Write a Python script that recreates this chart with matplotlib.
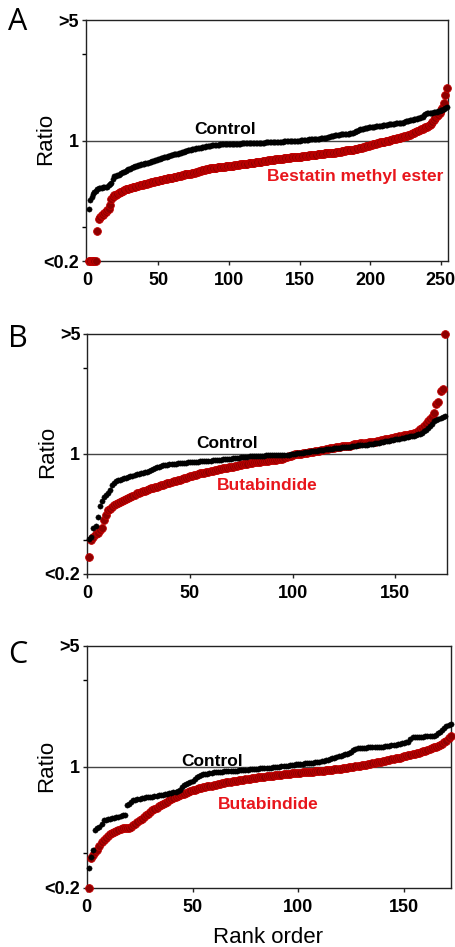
import matplotlib
matplotlib.use("Agg")
import matplotlib.pyplot as plt
import numpy as np

plt.rcParams['font.family'] = ['Liberation Sans', 'DejaVu Sans']

# ---------------- data (ratios, rank ordered) ----------------
a_control = [
 0.40, 0.45, 0.47, 0.49, 0.50, 0.51, 0.52, 0.53, 0.53, 0.53,
 0.54, 0.54, 0.54, 0.54, 0.55, 0.56, 0.565, 0.60, 0.62, 0.625,
 0.63, 0.635, 0.64, 0.65, 0.655, 0.66, 0.665, 0.67, 0.68, 0.685,
 0.69, 0.70, 0.705, 0.71, 0.715, 0.72, 0.725, 0.73, 0.73, 0.735,
 0.74, 0.74, 0.745, 0.75, 0.753, 0.76, 0.765, 0.77, 0.775, 0.78,
 0.785, 0.79, 0.795, 0.80, 0.80, 0.805, 0.81, 0.815, 0.82, 0.825,
 0.83, 0.83, 0.835, 0.84, 0.845, 0.85, 0.855, 0.86, 0.865, 0.87,
 0.875, 0.88, 0.885, 0.89, 0.89, 0.895, 0.90, 0.90, 0.905, 0.91,
 0.915, 0.92, 0.92, 0.925, 0.93, 0.93, 0.935, 0.94, 0.94, 0.94,
 0.945, 0.945, 0.945, 0.95, 0.95, 0.95, 0.95, 0.955, 0.955, 0.955,
 0.955, 0.957, 0.958, 0.958, 0.96, 0.96, 0.96, 0.96, 0.962, 0.962,
 0.963, 0.963, 0.964, 0.964, 0.965, 0.965, 0.966, 0.967, 0.968, 0.968,
 0.969, 0.97, 0.971, 0.972, 0.973, 0.974, 0.975, 0.976, 0.977, 0.978,
 0.979, 0.98, 0.981, 0.982, 0.983, 0.984, 0.985, 0.986, 0.987, 0.988,
 0.989, 0.99, 0.991, 0.992, 0.993, 0.994, 0.995, 0.997, 0.998, 1.0,
 1.002, 1.004, 1.006, 1.008, 1.01, 1.012, 1.014, 1.016, 1.018, 1.02,
 1.021, 1.023, 1.025, 1.027, 1.028, 1.03, 1.03, 1.035, 1.04, 1.045,
 1.05, 1.055, 1.06, 1.065, 1.07, 1.075, 1.08, 1.08, 1.085, 1.09,
 1.09, 1.092, 1.094, 1.096, 1.098, 1.10, 1.105, 1.11, 1.12, 1.13,
 1.14, 1.15, 1.16, 1.165, 1.17, 1.175, 1.18, 1.185, 1.19, 1.195,
 1.20, 1.20, 1.205, 1.21, 1.21, 1.215, 1.22, 1.22, 1.225, 1.23,
 1.23, 1.235, 1.24, 1.24, 1.245, 1.25, 1.25, 1.255, 1.255, 1.26,
 1.26, 1.265, 1.27, 1.28, 1.29, 1.295, 1.30, 1.31, 1.315, 1.32,
 1.325, 1.33, 1.34, 1.345, 1.35, 1.36, 1.37, 1.40, 1.43, 1.44,
 1.44, 1.445, 1.45, 1.45, 1.455, 1.46, 1.47, 1.48, 1.49, 1.50,
 1.51, 1.52, 1.54, 1.57]

a_bestatin = [
 0.2, 0.2, 0.2, 0.2, 0.2, 0.2, 0.30, 0.35, 0.36, 0.37,
 0.37, 0.38, 0.385, 0.395, 0.40, 0.42, 0.46, 0.47, 0.48, 0.485,
 0.49, 0.495, 0.50, 0.505, 0.51, 0.515, 0.52, 0.52, 0.525, 0.53,
 0.53, 0.535, 0.54, 0.54, 0.545, 0.545, 0.55, 0.553, 0.555, 0.558,
 0.56, 0.563, 0.566, 0.57, 0.572, 0.575, 0.578, 0.58, 0.583, 0.585,
 0.588, 0.59, 0.593, 0.596, 0.598, 0.60, 0.603, 0.605, 0.608, 0.61,
 0.613, 0.615, 0.618, 0.62, 0.623, 0.626, 0.63, 0.633, 0.636, 0.64,
 0.64, 0.642, 0.643, 0.644, 0.645, 0.65, 0.655, 0.66, 0.663, 0.667,
 0.67, 0.673, 0.676, 0.68, 0.683, 0.686, 0.688, 0.69, 0.692, 0.694,
 0.696, 0.698, 0.70, 0.702, 0.703, 0.704, 0.706, 0.707, 0.709, 0.71,
 0.712, 0.714, 0.716, 0.718, 0.72, 0.722, 0.724, 0.726, 0.728, 0.73,
 0.732, 0.734, 0.735, 0.737, 0.738, 0.74, 0.742, 0.744, 0.746, 0.748,
 0.75, 0.752, 0.754, 0.756, 0.76, 0.762, 0.764, 0.766, 0.768, 0.77,
 0.772, 0.774, 0.776, 0.778, 0.78, 0.782, 0.784, 0.786, 0.788, 0.79,
 0.792, 0.794, 0.796, 0.797, 0.798, 0.80, 0.801, 0.802, 0.803, 0.805,
 0.807, 0.809, 0.811, 0.813, 0.815, 0.817, 0.819, 0.821, 0.823, 0.825,
 0.827, 0.829, 0.831, 0.833, 0.835, 0.837, 0.839, 0.841, 0.843, 0.845,
 0.846, 0.847, 0.848, 0.849, 0.85, 0.853, 0.856, 0.86, 0.863, 0.866,
 0.869, 0.872, 0.875, 0.877, 0.879, 0.88, 0.883, 0.886, 0.89, 0.894,
 0.898, 0.902, 0.906, 0.91, 0.915, 0.92, 0.925, 0.93, 0.935, 0.94,
 0.945, 0.95, 0.955, 0.96, 0.965, 0.97, 0.974, 0.977, 0.98, 0.985,
 0.99, 0.995, 1.0, 1.005, 1.01, 1.015, 1.02, 1.025, 1.03, 1.035,
 1.04, 1.045, 1.05, 1.055, 1.06, 1.065, 1.07, 1.08, 1.09, 1.10,
 1.11, 1.12, 1.13, 1.14, 1.15, 1.16, 1.17, 1.18, 1.19, 1.20,
 1.21, 1.23, 1.24, 1.28, 1.31, 1.35, 1.38, 1.41, 1.44, 1.50,
 1.55, 1.64, 1.84, 2.01]

b_control = [
 0.32, 0.33, 0.37, 0.38, 0.43, 0.50, 0.53, 0.565, 0.58, 0.59,
 0.62, 0.66, 0.68, 0.695, 0.705, 0.71, 0.715, 0.72, 0.725, 0.73,
 0.74, 0.745, 0.755, 0.76, 0.765, 0.77, 0.775, 0.785, 0.79, 0.80,
 0.807, 0.815, 0.825, 0.835, 0.845, 0.85, 0.86, 0.865, 0.868, 0.87,
 0.873, 0.876, 0.879, 0.882, 0.885, 0.887, 0.89, 0.892, 0.894, 0.896,
 0.898, 0.90, 0.902, 0.904, 0.906, 0.908, 0.91, 0.912, 0.914, 0.916,
 0.92, 0.922, 0.924, 0.926, 0.928, 0.93, 0.932, 0.934, 0.937, 0.94,
 0.943, 0.946, 0.95, 0.953, 0.956, 0.96, 0.963, 0.967, 0.971, 0.975,
 0.976, 0.977, 0.978, 0.979, 0.98, 0.98, 0.981, 0.982, 0.982, 0.983,
 0.983, 0.984, 0.984, 0.985, 0.985, 0.988, 0.99, 0.993, 0.996, 1.0,
 1.004, 1.008, 1.012, 1.016, 1.02, 1.024, 1.028, 1.032, 1.036, 1.04,
 1.044, 1.048, 1.052, 1.056, 1.06, 1.064, 1.068, 1.072, 1.076, 1.08,
 1.083, 1.086, 1.089, 1.092, 1.095, 1.098, 1.10, 1.105, 1.11, 1.115,
 1.12, 1.123, 1.126, 1.129, 1.13, 1.135, 1.14, 1.145, 1.15, 1.155,
 1.16, 1.166, 1.172, 1.178, 1.184, 1.19, 1.196, 1.202, 1.21, 1.22,
 1.225, 1.23, 1.24, 1.245, 1.25, 1.26, 1.265, 1.27, 1.28, 1.29,
 1.30, 1.31, 1.33, 1.36, 1.38, 1.41, 1.46, 1.50, 1.55, 1.57,
 1.59, 1.61, 1.64, 1.66]

b_butabindide = [
 0.25, 0.315, 0.33, 0.34, 0.345, 0.36, 0.37, 0.41, 0.44, 0.47,
 0.48, 0.49, 0.505, 0.51, 0.515, 0.525, 0.53, 0.54, 0.548, 0.556,
 0.564, 0.572, 0.58, 0.59, 0.595, 0.60, 0.605, 0.612, 0.62, 0.625,
 0.63, 0.635, 0.64, 0.646, 0.652, 0.658, 0.664, 0.67, 0.675, 0.68,
 0.686, 0.692, 0.698, 0.704, 0.71, 0.715, 0.72, 0.726, 0.733, 0.74,
 0.746, 0.752, 0.758, 0.764, 0.77, 0.775, 0.78, 0.785, 0.79, 0.795,
 0.80, 0.805, 0.81, 0.815, 0.82, 0.824, 0.828, 0.832, 0.836, 0.84,
 0.845, 0.85, 0.855, 0.86, 0.865, 0.87, 0.875, 0.88, 0.885, 0.89,
 0.893, 0.896, 0.899, 0.902, 0.905, 0.908, 0.911, 0.914, 0.917, 0.92,
 0.924, 0.928, 0.932, 0.936, 0.94, 0.95, 0.96, 0.97, 0.98, 0.99,
 0.994, 0.998, 1.002, 1.006, 1.01, 1.014, 1.018, 1.022, 1.026, 1.03,
 1.036, 1.042, 1.048, 1.054, 1.06, 1.066, 1.072, 1.078, 1.084, 1.09,
 1.094, 1.098, 1.102, 1.106, 1.11, 1.113, 1.116, 1.12, 1.13, 1.14,
 1.144, 1.148, 1.152, 1.156, 1.16, 1.164, 1.168, 1.172, 1.176, 1.18,
 1.187, 1.194, 1.201, 1.208, 1.215, 1.222, 1.229, 1.236, 1.243, 1.25,
 1.258, 1.266, 1.274, 1.282, 1.29, 1.298, 1.306, 1.314, 1.322, 1.33,
 1.36, 1.39, 1.42, 1.45, 1.50, 1.55, 1.60, 1.65, 1.73, 1.95,
 2.0, 2.33, 2.38, 5.0]

c_control = [
 0.26, 0.30, 0.33, 0.43, 0.44, 0.45, 0.47, 0.49, 0.495, 0.50,
 0.50, 0.505, 0.505, 0.51, 0.515, 0.52, 0.525, 0.53, 0.60, 0.61,
 0.625, 0.64, 0.645, 0.65, 0.655, 0.66, 0.66, 0.665, 0.665, 0.67,
 0.673, 0.676, 0.68, 0.683, 0.686, 0.69, 0.695, 0.70, 0.705, 0.71,
 0.715, 0.72, 0.728, 0.735, 0.76, 0.79, 0.80, 0.81, 0.82, 0.83,
 0.85, 0.87, 0.885, 0.90, 0.905, 0.91, 0.915, 0.92, 0.925, 0.928,
 0.93, 0.932, 0.934, 0.936, 0.94, 0.942, 0.944, 0.946, 0.948, 0.95,
 0.952, 0.954, 0.956, 0.958, 0.96, 0.963, 0.966, 0.969, 0.972, 0.975,
 0.977, 0.979, 0.981, 0.983, 0.985, 0.988, 0.991, 0.994, 0.997, 1.0,
 1.003, 1.006, 1.01, 1.013, 1.016, 1.02, 1.024, 1.028, 1.032, 1.036,
 1.04, 1.043, 1.046, 1.049, 1.052, 1.055, 1.058, 1.061, 1.064, 1.07,
 1.075, 1.08, 1.09, 1.10, 1.11, 1.12, 1.13, 1.14, 1.15, 1.16,
 1.17, 1.18, 1.19, 1.20, 1.22, 1.25, 1.27, 1.28, 1.285, 1.29,
 1.29, 1.292, 1.294, 1.296, 1.298, 1.30, 1.302, 1.304, 1.306, 1.31,
 1.315, 1.32, 1.325, 1.33, 1.335, 1.34, 1.35, 1.36, 1.37, 1.38,
 1.39, 1.40, 1.44, 1.48, 1.485, 1.49, 1.49, 1.495, 1.495, 1.50,
 1.50, 1.50, 1.505, 1.51, 1.53, 1.56, 1.60, 1.64, 1.68, 1.72,
 1.75, 1.76]

c_butabindide = [
 0.2, 0.296, 0.31, 0.32, 0.33, 0.35, 0.37, 0.38, 0.39, 0.40,
 0.41, 0.415, 0.42, 0.425, 0.43, 0.435, 0.44, 0.44, 0.442, 0.445,
 0.45, 0.46, 0.47, 0.48, 0.49, 0.50, 0.51, 0.525, 0.537, 0.55,
 0.56, 0.57, 0.58, 0.59, 0.60, 0.61, 0.62, 0.63, 0.64, 0.65,
 0.66, 0.668, 0.676, 0.684, 0.692, 0.70, 0.708, 0.716, 0.724, 0.732,
 0.738, 0.744, 0.75, 0.755, 0.76, 0.765, 0.77, 0.775, 0.78, 0.785,
 0.79, 0.795, 0.80, 0.804, 0.808, 0.812, 0.816, 0.82, 0.824, 0.828,
 0.832, 0.836, 0.84, 0.844, 0.848, 0.852, 0.856, 0.86, 0.863, 0.866,
 0.869, 0.872, 0.875, 0.878, 0.881, 0.884, 0.887, 0.89, 0.893, 0.896,
 0.899, 0.902, 0.905, 0.908, 0.911, 0.914, 0.917, 0.92, 0.922, 0.924,
 0.926, 0.928, 0.93, 0.932, 0.934, 0.936, 0.938, 0.94, 0.943, 0.946,
 0.949, 0.952, 0.955, 0.958, 0.961, 0.964, 0.967, 0.97, 0.974, 0.978,
 0.982, 0.986, 0.99, 0.994, 0.998, 1.002, 1.006, 1.01, 1.015, 1.02,
 1.025, 1.03, 1.036, 1.042, 1.048, 1.054, 1.06, 1.066, 1.072, 1.078,
 1.084, 1.09, 1.097, 1.104, 1.111, 1.118, 1.125, 1.132, 1.14, 1.148,
 1.156, 1.164, 1.172, 1.18, 1.19, 1.20, 1.21, 1.22, 1.23, 1.24,
 1.25, 1.265, 1.28, 1.295, 1.31, 1.325, 1.34, 1.36, 1.39, 1.42,
 1.46, 1.50]

y_ticks = [0.2, 1, 5]
y_ticklabels = ['<0.2', '1', '>5']
y_minor = [10 ** -0.5, 10 ** 0.5]

panels = [
    dict(letter='A', ctrl=a_control, trt=a_bestatin, trt_name='Bestatin methyl ester',
         xlim=(-1, 255), xticks=[0, 50, 100, 150, 200, 250],
         box=(86, 20, 448, 261), ctrl_txt=(225, 129), trt_txt=(355, 177),
         letter_xy=(18, 22), ratio_xy=(46, 139), xlabel=None),
    dict(letter='B', ctrl=b_control, trt=b_butabindide, trt_name='Butabindide',
         xlim=(0, 175), xticks=[0, 50, 100, 150],
         box=(87.3, 334, 446.7, 574), ctrl_txt=(227, 443), trt_txt=(267, 485),
         letter_xy=(18, 339), ratio_xy=(48, 452), xlabel=None),
    dict(letter='C', ctrl=c_control, trt=c_butabindide, trt_name='Butabindide',
         xlim=(0, 172), xticks=[0, 50, 100, 150],
         box=(86.7, 646, 450.7, 887.7), ctrl_txt=(212, 762), trt_txt=(268, 804),
         letter_xy=(18, 655), ratio_xy=(47, 766), xlabel='Rank order'),
]

W, H = 456, 947
fig = plt.figure(figsize=(W / 100, H / 100), dpi=100)
fig.patch.set_facecolor('white')

RED_FACE = '#8e0000'
RED_EDGE = '#c40000'
TXT_RED = '#e8161c'

def fx(x):
    return x / W

def fy(y):
    return 1 - y / H

for p in panels:
    l, t, r, b = p['box']
    ax = fig.add_axes([fx(l), fy(b), (r - l) / W, (b - t) / H])
    ctrl = np.array(p['ctrl'])
    trt = np.array(p['trt'])
    ax.plot(np.arange(1, len(trt) + 1), trt, 'o', ms=5.6, mfc=RED_FACE,
            mec=RED_EDGE, mew=0.6, clip_on=False, zorder=3)
    ax.plot(np.arange(1, len(ctrl) + 1), ctrl, 'o', ms=3.8, mfc='black',
            mec='black', mew=0.3, clip_on=False, zorder=4)
    ax.axhline(1, color='#444444', lw=1.0, zorder=2)
    ax.set_yscale('log')
    ax.set_ylim(0.2, 5)
    ax.set_xlim(*p['xlim'])
    ax.set_yticks(y_ticks)
    ax.set_yticklabels(y_ticklabels)
    ax.set_yticks(y_minor, minor=True)
    ax.yaxis.set_minor_formatter(matplotlib.ticker.NullFormatter())
    ax.set_xticks(p['xticks'])
    ax.set_xticklabels([str(v) for v in p['xticks']])
    ax.tick_params(axis='both', which='major', direction='out', length=3,
                   width=1, labelsize=13, color='#222222')
    ax.tick_params(axis='x', which='major', pad=5)
    ax.tick_params(axis='y', which='major', pad=2)
    ax.tick_params(axis='y', which='minor', direction='out', length=3, width=1)
    for lab in ax.get_xticklabels() + ax.get_yticklabels():
        lab.set_fontweight('bold')
    for s in ax.spines.values():
        s.set_color('#222222')
        s.set_linewidth(1.0)

    fig.text(fx(p['ctrl_txt'][0]), fy(p['ctrl_txt'][1]), 'Control',
             ha='center', va='center', fontsize=12.5, fontweight='bold', color='black')
    fig.text(fx(p['trt_txt'][0]), fy(p['trt_txt'][1]), p['trt_name'],
             ha='center', va='center', fontsize=12.5, fontweight='bold', color=TXT_RED)
    fig.text(fx(p['letter_xy'][0]), fy(p['letter_xy'][1]), p['letter'],
             ha='center', va='center', fontsize=22, family=['Open Sans', 'DejaVu Sans'])
    fig.text(fx(p['ratio_xy'][0]), fy(p['ratio_xy'][1]), 'Ratio',
             ha='center', va='center', rotation=90, fontsize=16)
    if p['xlabel']:
        fig.text(fx(268), fy(937), p['xlabel'], ha='center', va='center', fontsize=16)

fig.savefig('out.png', dpi=100, facecolor='white')
